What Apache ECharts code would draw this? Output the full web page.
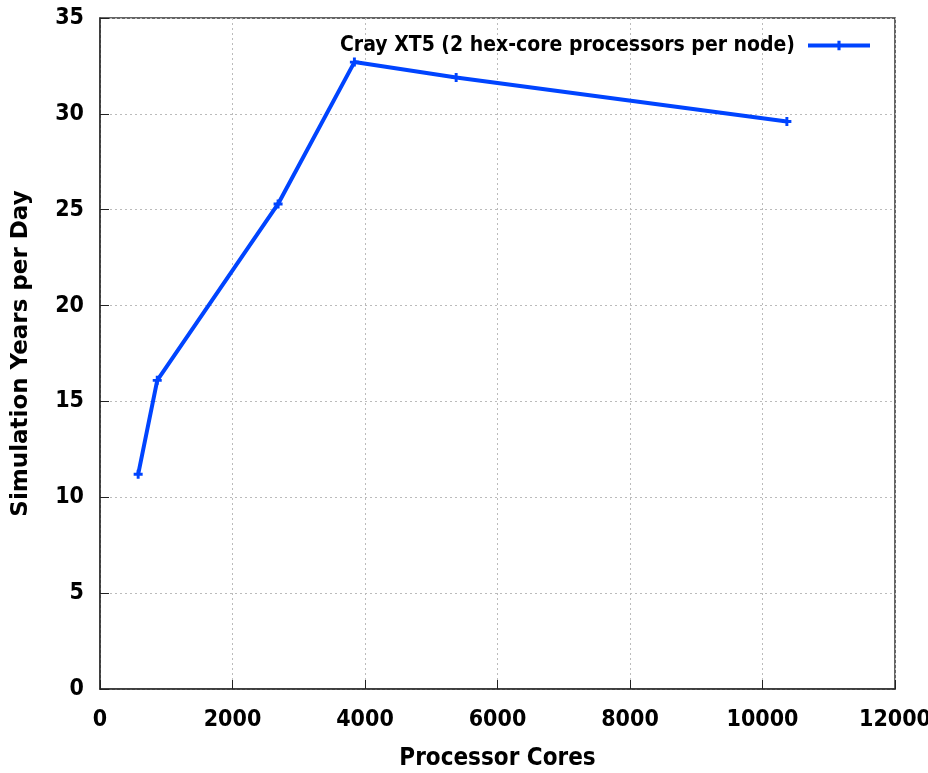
<!DOCTYPE html>
<html>
<head>
<meta charset="utf-8">
<script src="https://cdn.jsdelivr.net/npm/echarts@6/dist/echarts.min.js"></script>
<style>
html,body{margin:0;padding:0;background:#fff;}
#c{width:928px;height:773px;}
</style>
</head>
<body>
<div id="c"></div>
<script>
const seriesName = 'Cray XT5 (2 hex-core processors per node)';
const cores = [576, 864, 2688, 3840, 5376, 10368];
const yearsPerDay = [11.2, 16.1, 25.3, 32.7, 31.9, 29.6];
const xTicks = [0, 2000, 4000, 6000, 8000, 10000, 12000];
const yTicks = [0, 5, 10, 15, 20, 25, 30, 35];

const narrow = '"Liberation Sans Narrow", "DejaVu Sans Condensed", "Liberation Sans", sans-serif';
const plus = 'path://M-1.3,-4 L1.3,-4 L1.3,-1.3 L4,-1.3 L4,1.3 L1.3,1.3 L1.3,4 L-1.3,4 L-1.3,1.3 L-4,1.3 L-4,-1.3 L-1.3,-1.3 Z';
const blue = '#0044ff';

const chart = echarts.init(document.getElementById('c'));
const axisCommon = {
  axisLine: {show: true, onZero: false, lineStyle: {color: '#333', width: 1.5}},
  axisTick: {show: true, inside: true, length: 9, lineStyle: {color: '#222', width: 1}},
  splitLine: {show: true, lineStyle: {color: '#bbb', type: [2, 3], width: 1}},
  axisLabel: {color: '#000', fontFamily: narrow, fontWeight: 'bold', fontSize: 23, formatter: v => String(v)}
};
chart.setOption({
  animation: false,
  backgroundColor: '#fff',
  grid: {left: 100, right: 33, top: 18, bottom: 84, outerBoundsMode: 'none', containLabel: false,
         show: true, borderColor: '#333', borderWidth: 1.5, backgroundColor: 'transparent'},
  legend: {
    show: true,
    right: 51, top: 30,
    align: 'right',
    itemWidth: 62, itemHeight: 12,
    itemGap: 14,
    lineStyle: {width: 4},
    textStyle: {color: '#000', fontFamily: narrow, fontWeight: 'bold', fontSize: 21, padding: [0, 8, 0, 0]},
    data: [{name: seriesName}]
  },
  xAxis: Object.assign({}, axisCommon, {
    type: 'value', min: xTicks[0], max: xTicks[xTicks.length - 1], interval: 2000,
    name: 'Processor Cores', nameLocation: 'middle', nameGap: 58,
    nameTextStyle: {color: '#000', fontFamily: narrow, fontWeight: 'bold', fontSize: 24},
    axisLabel: Object.assign({}, axisCommon.axisLabel, {margin: 20})
  }),
  yAxis: Object.assign({}, axisCommon, {
    type: 'value', min: yTicks[0], max: yTicks[yTicks.length - 1], interval: 5,
    name: 'Simulation Years per Day', nameLocation: 'middle', nameGap: 67,
    nameTextStyle: {color: '#000', fontFamily: '"DejaVu Sans", sans-serif', fontWeight: 'bold', fontSize: 23},
    axisLabel: Object.assign({}, axisCommon.axisLabel, {margin: 16})
  }),
  series: [{
    name: seriesName,
    type: 'line',
    data: cores.map((c, i) => [c, yearsPerDay[i]]),
    symbol: plus, symbolSize: 9,
    showAllSymbol: true,
    lineStyle: {color: blue, width: 4},
    itemStyle: {color: blue, borderWidth: 0},
    emphasis: {disabled: true}
  }]
});
</script>
</body>
</html>
